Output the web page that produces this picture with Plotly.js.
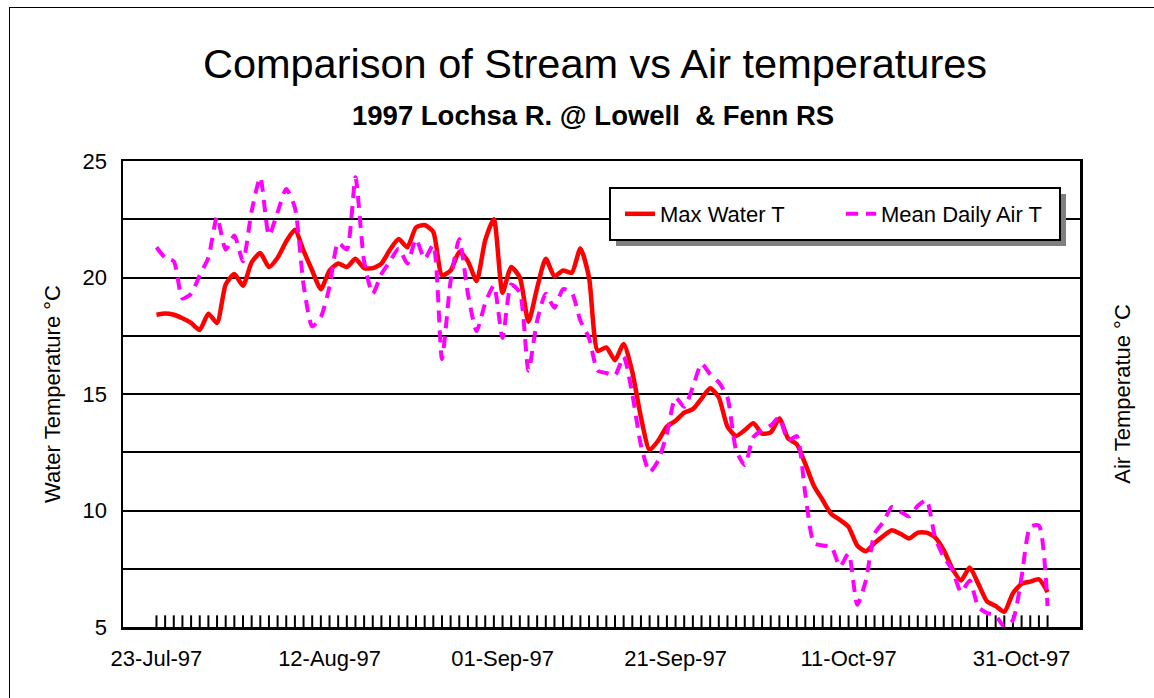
<!DOCTYPE html>
<html>
<head>
<meta charset="utf-8">
<script src="https://cdn.plot.ly/plotly-3.0.1.min.js"></script>
<style>
  html, body { margin:0; padding:0; background:#fff; overflow:hidden; }
  #chart { position:absolute; left:0; top:0; width:1154px; height:698px; }
  #frame { position:absolute; left:9px; top:7px; width:1200px; height:800px; border:1.5px solid #000; pointer-events:none; }
</style>
</head>
<body>
<div id="chart"></div>
<div id="frame"></div>
<script>
// ---- data (daily values) ----
const startDate = [1997, 6, 23]; // 23-Jul-97 (UTC year, month index, day)

const waterMaxT = [
  18.4, 18.45, 18.4, 18.25, 18.05, 17.75, 18.45, 18.05, 19.7, 20.15,
  19.65, 20.65, 21.05, 20.45, 20.85, 21.55, 22.05, 21.15, 20.3, 19.5,
  20.3, 20.6, 20.45, 20.8, 20.4, 20.4, 20.6, 21.2, 21.65, 21.3,
  22.15, 22.25, 21.95, 20.1, 20.3, 21.1, 20.7, 19.85, 21.6, 22.5,
  19.35, 20.45, 20.0, 18.1, 19.55, 20.8, 20.05, 20.3, 20.2, 21.25,
  20.0, 16.85, 17.0, 16.45, 17.15, 15.95, 14.0, 12.6, 13.0, 13.6,
  13.85, 14.2, 14.35, 14.8, 15.25, 14.85, 13.6, 13.2, 13.45, 13.75,
  13.3, 13.35, 13.95, 13.1, 12.85, 12.0, 11.05, 10.45, 9.85, 9.6,
  9.3, 8.5, 8.25, 8.6, 8.9, 9.15, 9.0, 8.8, 9.05, 9.05,
  8.85, 8.3, 7.5, 7.0, 7.55, 6.85, 6.1, 5.9, 5.65, 6.45,
  6.85, 6.95, 7.05, 6.5
];

const airMeanT = [
  21.3, 20.85, 20.7, 19.1, 19.3, 20.1, 20.85, 22.6, 21.2, 21.8,
  20.7, 22.85, 24.3, 21.8, 22.8, 23.8, 23.0, 19.7, 17.9, 18.3,
  19.6, 21.5, 21.2, 24.3, 20.7, 19.3, 20.15, 20.7, 21.25, 20.6,
  21.65, 20.8, 21.4, 16.5, 19.85, 21.65, 19.3, 17.7, 18.9, 19.65,
  17.4, 19.7, 19.35, 16.0, 18.15, 19.3, 18.7, 19.5, 19.35, 18.15,
  17.4, 16.0, 15.9, 15.8, 16.6, 15.0, 12.8, 11.65, 12.15, 13.3,
  14.85, 14.45, 15.3, 16.3, 15.85, 15.5, 14.85, 12.6, 11.95, 13.15,
  13.45, 13.65, 14.0, 13.0, 13.2, 10.7, 8.6, 8.5, 8.45, 7.6,
  8.15, 5.95, 7.0, 9.0, 9.5, 10.15, 9.95, 9.75, 10.2, 10.45,
  8.85, 8.0, 7.45, 6.5, 7.0, 5.85, 5.6, 5.5, 5.0, 5.3,
  7.15, 9.3, 9.35, 5.9
];

const seriesNames = ['Max Water T', 'Mean Daily Air T'];
const yTickVals = [5, 10, 15, 20, 25];
const labelEvery = 20; // a date label every 20 days

// ---- helpers ----
const DAY = 86400000;
const t0 = Date.UTC(startDate[0], startDate[1], startDate[2]);
function fmt(ms) {
  const d = new Date(ms);
  const p = n => String(n).padStart(2, '0');
  return d.getUTCFullYear() + '-' + p(d.getUTCMonth() + 1) + '-' + p(d.getUTCDate()) +
    ' ' + p(d.getUTCHours()) + ':' + p(d.getUTCMinutes()) + ':' + p(d.getUTCSeconds());
}
const dates = waterMaxT.map((_, i) => fmt(t0 + i * DAY));
const labelDates = dates.filter((_, i) => i % labelEvery === 0);

// plot-area pixel geometry
const W = 1154, H = 698;
const PL = 123, PR = 1080, PT = 161, PB = 627;
const px = x => (x - PL) / (PR - PL);
const py = y => (PB - y) / (PB - PT);

const FONT = '"Liberation Sans", Arial, "DejaVu Sans", sans-serif';

const traces = [
  { // daily tick marks along the floor of the chart
    x: dates, y: dates.map(() => yTickVals[0]),
    type: 'scatter', mode: 'markers',
    marker: { size: 1, opacity: 0 },
    error_y: { type: 'constant', value: 0.5, valueminus: 0, symmetric: false,
               width: 0, thickness: 2, color: '#000' },
    showlegend: false, hoverinfo: 'skip', cliponaxis: false
  },
  {
    x: dates, y: waterMaxT, name: seriesNames[0],
    type: 'scatter', mode: 'lines',
    line: { color: '#ff0000', width: 4.5, shape: 'spline', smoothing: 0.6 }
  },
  {
    x: dates, y: airMeanT, name: seriesNames[1],
    type: 'scatter', mode: 'lines',
    line: { color: '#ff00ff', width: 4, dash: '12px,8px', shape: 'spline', smoothing: 0.6 }
  }
];

const layout = {
  width: W, height: H,
  margin: { l: PL, r: W - PR, t: PT, b: H - PB, pad: 0 },
  paper_bgcolor: '#fff', plot_bgcolor: '#fff',
  font: { family: FONT, color: '#000', size: 22 },
  title: {
    text: 'Comparison of Stream vs Air temperatures',
    font: { family: FONT, size: 41.5, color: '#000' },
    xref: 'container', x: 595 / W, xanchor: 'center',
    yref: 'container', y: 1 - 63 / H, yanchor: 'middle'
  },
  xaxis: {
    type: 'date',
    range: [fmt(t0 - 3.87 * DAY), fmt(t0 + 106.75 * DAY)],
    tickvals: labelDates, tickformat: '%d-%b-%y',
    ticks: 'outside', ticklen: 10, tickcolor: 'rgba(0,0,0,0)',
    tickfont: { family: FONT, size: 22, color: '#000' },
    showgrid: false, zeroline: false,
    showline: true, linecolor: '#000', linewidth: 2.5, mirror: true
  },
  yaxis: {
    range: [5, 25], tickvals: yTickVals,
    ticks: 'outside', ticklen: 9, tickcolor: 'rgba(0,0,0,0)',
    tickfont: { family: FONT, size: 22, color: '#000' },
    showgrid: true, gridcolor: '#000', gridwidth: 2,
    minor: { dtick: 2.5, showgrid: true, gridcolor: '#000', gridwidth: 2, ticks: '' },
    zeroline: false,
    showline: true, linecolor: '#000', linewidth: 2.5, mirror: true,
    title: { text: 'Water Temperature °C', font: { family: FONT, size: 22, color: '#000' }, standoff: 16 }
  },
  yaxis2: {
    overlaying: 'y', side: 'right', range: [5, 25],
    showticklabels: false, showgrid: false, zeroline: false, showline: false, ticks: '',
    title: { text: 'Air Temperatue °C', font: { family: FONT, size: 22, color: '#000' }, standoff: 34 }
  },
  showlegend: true,
  legend: {
    orientation: 'h', x: px(620), xanchor: 'left', y: py(214), yanchor: 'middle',
    bgcolor: 'rgba(0,0,0,0)', borderwidth: 0,
    font: { family: FONT, size: 22, color: '#000' },
    entrywidth: 176, itemwidth: 30
  },
  shapes: [
    { type: 'rect', xref: 'paper', yref: 'paper', layer: 'above',
      x0: px(616), x1: px(1066), y0: py(246), y1: py(194),
      fillcolor: '#808080', line: { width: 0 } },
    { type: 'rect', xref: 'paper', yref: 'paper', layer: 'above',
      x0: px(610), x1: px(1060), y0: py(240), y1: py(188),
      fillcolor: '#fff', line: { color: '#000', width: 2 } }
  ],
  annotations: [
    { text: '<b>1997 Lochsa R. @ Lowell\u00a0 & Fenn RS</b>',
      xref: 'paper', x: px(593), xanchor: 'center',
      yref: 'paper', y: py(116), yanchor: 'middle',
      showarrow: false, font: { family: FONT, size: 27.5, color: '#000' } }
  ]
};

// an invisible trace on the right axis so the right-hand title is drawn
traces.push({ x: [dates[0]], y: [null], yaxis: 'y2', type: 'scatter', mode: 'lines',
  showlegend: false, hoverinfo: 'skip' });

Plotly.newPlot('chart', traces, layout, { displayModeBar: false, staticPlot: true });
</script>
</body>
</html>
